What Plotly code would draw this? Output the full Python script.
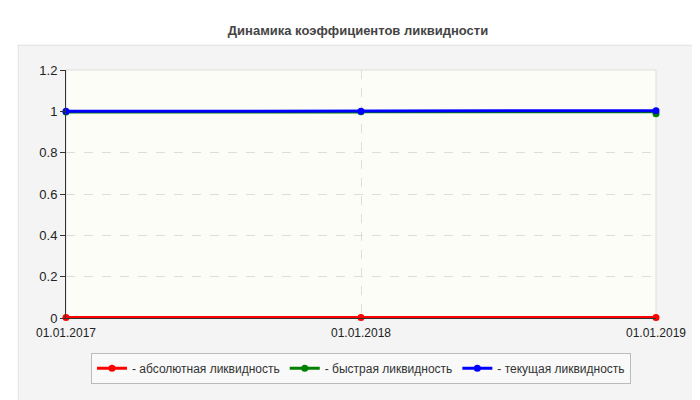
import plotly.graph_objects as go

dates = ["01.01.2017", "01.01.2018", "01.01.2019"]
absolute = [0.002, 0.002, 0.002]
quick = [0.997, 0.998, 0.988]
current = [1.0, 1.0, 1.003]

series = [
    ("- абсолютная ликвидность", absolute, "#ff0000"),
    ("- быстрая ликвидность", quick, "#008000"),
    ("- текущая ликвидность", current, "#0000ff"),
]

fig = go.Figure()
for name, vals, color in series:
    fig.add_trace(go.Scatter(
        x=[0, 1, 2], y=vals, name=name, mode="lines+markers",
        line=dict(color=color, width=3, shape="hv" if color == "#008000" else "linear"),
        marker=dict(color=color, size=7),
        cliponaxis=False,
    ))

# outer rounded panel
fig.add_shape(type="rect", xref="paper", yref="paper",
              x0=-0.081, x1=1.07, y0=-0.345, y1=1.1,
              fillcolor="#f4f4f4", line=dict(color="#e0e0e0", width=1), layer="below")
fig.add_shape(type="rect", xref="paper", yref="paper", x0=0, x1=1, y0=0, y1=1,
              fillcolor="#fdfdf8", line=dict(color="#dddddd", width=1), layer="below")

fig.update_layout(
    width=700, height=400,
    margin=dict(l=58, r=52, t=62, b=90, autoexpand=False),
    paper_bgcolor="white", plot_bgcolor="rgba(0,0,0,0)",
    font=dict(family="Liberation Sans, Arial", size=12, color="#222"),
    title=dict(text="<b>Динамика коэффициентов ликвидности</b>", x=0.5, y=0.955,
               font=dict(size=13, color="#444")),
    showlegend=True,
    legend=dict(orientation="h", x=0.5, xanchor="center", y=-0.14, yanchor="top",
                bgcolor="#f9f9f9", bordercolor="#bbbbbb", borderwidth=1,
                font=dict(size=12, color="#333"), itemwidth=30),
    xaxis=dict(tickvals=[0, 1, 2], ticktext=dates, range=[0, 2],
               showgrid=True, gridcolor="#dddddd", griddash="dash",
               showline=True, linecolor="#333", ticks="", zeroline=False,
               ticklabelstandoff=4),
    yaxis=dict(range=[0, 1.2], dtick=0.2, tickformat="~g",
               showgrid=True, gridcolor="#dddddd", griddash="dash",
               showline=True, linecolor="#333", ticks="outside", ticklen=5,
               tickcolor="#333", zeroline=False, tickfont=dict(size=13)),
)

fig.write_html("out.html")
